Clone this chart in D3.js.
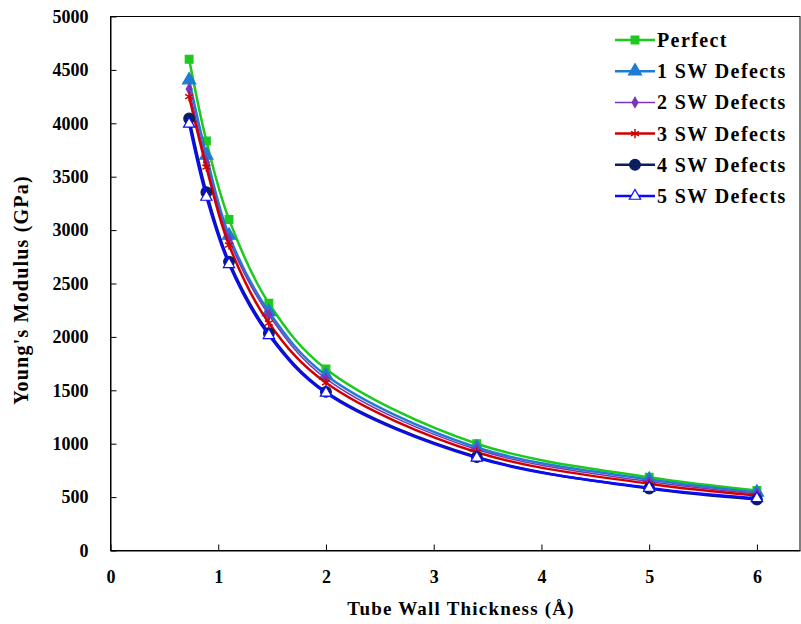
<!DOCTYPE html>
<html>
<head>
<meta charset="utf-8">
<script src="https://cdn.jsdelivr.net/npm/d3@7"></script>
<style>
  body { margin: 0; background: #fff; }
  text { font-family: "Liberation Serif", "Times New Roman", serif; font-weight: bold; }
</style>
</head>
<body>
<div id="chart"></div>
<script>
// tube wall thickness (Angstrom)
const thickness = [0.73, 0.89, 1.1, 1.47, 2.0, 3.4, 5.0, 6.0];
// Young's modulus (GPa) per series
const perfect = [4600, 3835, 3100, 2315, 1700, 1000, 685, 562];
const sw1 = [4405, 3700, 2950, 2235, 1640, 965, 665, 545];
const sw2 = [4320, 3635, 2910, 2205, 1610, 945, 645, 530];
const sw3 = [4250, 3590, 2860, 2130, 1570, 920, 625, 515];
const sw4 = [4045, 3355, 2705, 2035, 1485, 875, 580, 478];
const sw5 = [3995, 3310, 2680, 2015, 1475, 868, 585, 488];
const seriesNames = ["Perfect", "1 SW Defects", "2 SW Defects", "3 SW Defects", "4 SW Defects", "5 SW Defects"];
const xTicks = [0, 1, 2, 3, 4, 5, 6];
const yTicks = [0, 500, 1000, 1500, 2000, 2500, 3000, 3500, 4000, 4500, 5000];

// look of each series
const styles = [
  { color: "#1ec81e", width: 2.5, symbol: d3.symbolSquare, size: 60, fill: "#1ec81e" },
  { color: "#1f7cd2", width: 2.5, symbol: d3.symbolTriangle, size: 75, fill: "#1f7cd2" },
  { color: "#7b35b8", width: 1.5, symbol: d3.symbolDiamond, size: 30, fill: "#7b35b8" },
  { color: "#d10000", width: 2.5, symbol: d3.symbolAsterisk, size: 60, fill: "none" },
  { color: "#0b1f5e", width: 2.5, symbol: d3.symbolCircle, size: 90, fill: "#0b1f5e" },
  { color: "#0a0aff", width: 2.5, symbol: d3.symbolTriangle, size: 55, fill: "#fff" }
];

const allValues = [perfect, sw1, sw2, sw3, sw4, sw5];
const series = seriesNames.map((name, i) => ({
  name: name,
  style: styles[i],
  points: thickness.map((t, j) => ({ x: t, y: allValues[i][j] }))
}));

const width = 801, height = 624;
const plotLeft = 110.5, plotRight = 800, plotTop = 16.5, plotBottom = 550.5;

const svg = d3.select("#chart").append("svg")
  .attr("width", width)
  .attr("height", height);

const x = d3.scaleLinear().domain([0, 6.4]).range([plotLeft, plotRight]);
const y = d3.scaleLinear().domain([0, 5000]).range([plotBottom, plotTop]);

// plot frame
svg.append("rect")
  .attr("x", plotLeft).attr("y", plotTop)
  .attr("width", plotRight - plotLeft).attr("height", plotBottom - plotTop)
  .attr("fill", "none").attr("stroke", "#000").attr("stroke-width", 1);

// axes with inward ticks
svg.append("g")
  .attr("transform", `translate(0,${plotBottom})`)
  .call(d3.axisBottom(x).tickValues(xTicks).tickFormat(d3.format("d"))
    .tickSize(-6).tickPadding(20).tickSizeOuter(0))
  .call(g => g.selectAll("text").attr("font-size", 18).attr("fill", "#000"));

svg.append("g")
  .attr("transform", `translate(${plotLeft},0)`)
  .call(d3.axisLeft(y).tickValues(yTicks).tickFormat(d3.format("d"))
    .tickSize(-6).tickPadding(22).tickSizeOuter(0))
  .call(g => g.selectAll("text").attr("font-size", 18).attr("fill", "#000"));

svg.selectAll(".domain").attr("stroke", "#000");

// axis titles
svg.append("text")
  .attr("x", 461).attr("y", 615)
  .attr("text-anchor", "middle")
  .attr("font-size", 19)
  .attr("letter-spacing", 1.2)
  .text("Tube Wall Thickness (Å)");

svg.append("text")
  .attr("transform", "translate(28,290) rotate(-90)")
  .attr("text-anchor", "middle")
  .attr("font-size", 20)
  .attr("letter-spacing", 1.2)
  .text("Young's Modulus (GPa)");

// lines and markers
const line = d3.line()
  .x(d => x(d.x))
  .y(d => y(d.y))
  .curve(d3.curveCatmullRom.alpha(0.5));

series.forEach(s => {
  svg.append("path")
    .datum(s.points)
    .attr("d", line)
    .attr("fill", "none")
    .attr("stroke", s.style.color)
    .attr("stroke-width", s.style.width);

  svg.append("g").selectAll("path")
    .data(s.points)
    .enter()
    .append("path")
    .attr("transform", d => `translate(${x(d.x)},${y(d.y)})`)
    .attr("d", d3.symbol().type(s.style.symbol).size(s.style.size))
    .attr("fill", s.style.fill)
    .attr("stroke", s.style.color)
    .attr("stroke-width", s.style.fill === "none" ? 1.5 : 1.2);
});

// legend
const legend = svg.append("g").attr("transform", "translate(615,40)");
series.forEach((s, i) => {
  const row = legend.append("g").attr("transform", `translate(0,${i * 31.2})`);
  row.append("line")
    .attr("x1", 0).attr("x2", 40)
    .attr("stroke", s.style.color)
    .attr("stroke-width", s.style.width);
  row.append("path")
    .attr("transform", "translate(20,0)")
    .attr("d", d3.symbol().type(s.style.symbol).size(s.style.size))
    .attr("fill", s.style.fill)
    .attr("stroke", s.style.color)
    .attr("stroke-width", s.style.fill === "none" ? 1.5 : 1.2);
  row.append("text")
    .attr("x", 42).attr("y", 7)
    .attr("font-size", 20)
    .attr("letter-spacing", 1.4)
    .text(s.name);
});
</script>
</body>
</html>
